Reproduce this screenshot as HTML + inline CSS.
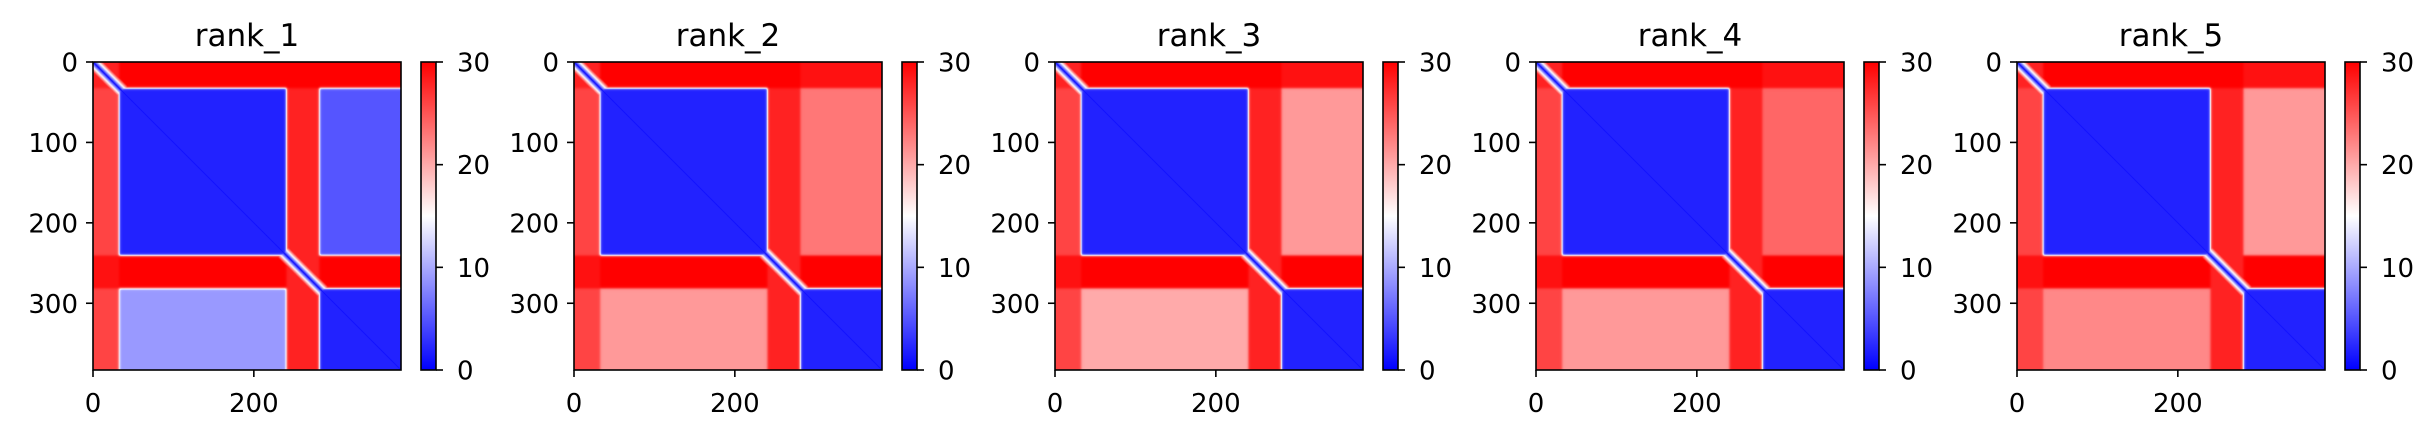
<!DOCTYPE html>
<html><head><meta charset="utf-8">
<style>
html,body{margin:0;padding:0;background:#fff;}
#fig{position:relative;width:2435px;height:438px;overflow:hidden;background:#fff;}
canvas{position:absolute;}
svg{position:absolute;left:0;top:0;}
text{font-family:"DejaVu Sans","Liberation Sans",sans-serif;fill:#000;}
</style></head>
<body>
<div id="fig">
<svg id="ov" width="2435" height="438"></svg>
</div>
<script>
// ---- data ----
const panelTitles = ["rank_1","rank_2","rank_3","rank_4","rank_5"];
const nResidues = 383;
const domainStarts = [0, 32, 240, 281];   // segment starts: N-term, domain B, linker, domain C
// block PAE (row segment x col segment) for each rank
const blockPAE_rank1 = [[28,30,30,30],[26,2,28,5],[29,30,28,30],[26,9,28,2]];
const blockPAE_rank2 = [[28,30,30,29],[26,2,28,23],[29,30,28,30],[26,21,28,2]];
const blockPAE_rank3 = [[28,30,30,29],[26,2,28,21],[29,30,28,30],[26,20,28,2]];
const blockPAE_rank4 = [[28,30,30,29],[26,2,28,24],[29,30,28,30],[26,21,28,2]];
const blockPAE_rank5 = [[28,30,30,29],[26,2,28,21],[29,30,28,30],[26,22,28,2]];
const blockPAE = [blockPAE_rank1,blockPAE_rank2,blockPAE_rank3,blockPAE_rank4,blockPAE_rank5];
const xTicks = [0,200];
const yTicks = [0,100,200,300];
const cbTicks = [0,10,20,30];
const vmax = 30;

// ---- layout ----
const panelLeft = [93,574,1055,1536,2017];
const axTop = 62, axSize = 308, cbOff = 328, cbW = 15;
const NS = "http://www.w3.org/2000/svg";
const ov = document.getElementById('ov');
const fig = document.getElementById('fig');

function cmap(v){
  let t = Math.max(0,Math.min(1,v/vmax));
  if(t<0.5){const a=2*t;return [255*a,255*a,255];}
  const a=2-2*t;return [255,255*a,255*a];
}
function segWeights(i){
  const w=[];
  for(let s=0;s<domainStarts.length;s++){
    const a=domainStarts[s], b=(s+1<domainStarts.length?domainStarts[s+1]:nResidues+50);
    const lo = s===0?1:1/(1+Math.exp(-(i-a)/0.8));
    const hi = 1/(1+Math.exp((i-b)/0.8));
    w.push(lo*hi);
  }
  const sum=w.reduce((p,c)=>p+c,0);
  return w.map(x=>x/sum);
}
function xs(v){return v/nResidues*axSize;}
function add(tag,attrs,parent){
  const e=document.createElementNS(NS,tag);
  for(const k in attrs)e.setAttribute(k,attrs[k]);
  (parent||ov).appendChild(e);return e;
}

const W=[];for(let i=0;i<nResidues;i++)W.push(segWeights(i));

panelTitles.forEach((title,p)=>{
  const L=panelLeft[p];
  const M=blockPAE[p];
  const cv=document.createElement('canvas');
  
  
  cv.width=nResidues;cv.height=nResidues;
  cv.style.left=L+'px';cv.style.top=axTop+'px';
  cv.style.width=axSize+'px';cv.style.height=axSize+'px';
  fig.insertBefore(cv,ov);
  const ctx=cv.getContext('2d');
  const img=ctx.createImageData(nResidues,nResidues);
  for(let i=0;i<nResidues;i++){
    const wi=W[i];
    for(let j=0;j<nResidues;j++){
      const wj=W[j];
      let v=0;
      for(let a=0;a<4;a++){if(wi[a]<1e-4)continue;for(let b=0;b<4;b++){if(wj[b]<1e-4)continue;v+=wi[a]*wj[b]*M[a][b];}}
      const d=Math.abs(i-j);
      v=Math.min(v,0.5+d*2.2);
      const c=cmap(v);const k=(i*nResidues+j)*4;
      img.data[k]=c[0];img.data[k+1]=c[1];img.data[k+2]=c[2];img.data[k+3]=255;
    }
  }
  ctx.putImageData(img,0,0);

  const g=add('g',{});
  
  
  const t=add('text',{x:L+axSize/2,y:46,'text-anchor':'middle','font-size':31},g);
  t.textContent=title;
  
  
  const fr=add('rect',{x:L,y:axTop,width:axSize,height:axSize,fill:'none',stroke:'#000','stroke-width':1.6},g);
  
  
  xTicks.forEach(v=>{
    const x=L+xs(v);
    add('line',{x1:x,y1:axTop+axSize,x2:x,y2:axTop+axSize+7,stroke:'#000','stroke-width':1.6},g);
    const tx=add('text',{x:x,y:412,'text-anchor':'middle','font-size':26},g);
    tx.textContent=v;
    
    
  });
  yTicks.forEach(v=>{
    const y=axTop+xs(v);
    add('line',{x1:L-7,y1:y,x2:L,y2:y,stroke:'#000','stroke-width':1.6},g);
    const ty=add('text',{x:L-15,y:y+9.5,'text-anchor':'end','font-size':26},g);
    ty.textContent=v;
    
    
  });
  const cx=L+cbOff;
  const gid='cbg'+p;
  const defs=add('defs',{},g);
  const lg=add('linearGradient',{id:gid,x1:0,y1:1,x2:0,y2:0},defs);
  add('stop',{offset:'0','stop-color':'#0000ff'},lg);
  add('stop',{offset:'0.5','stop-color':'#ffffff'},lg);
  add('stop',{offset:'1','stop-color':'#ff0000'},lg);
  const cb=add('rect',{x:cx,y:axTop,width:cbW,height:axSize,fill:'url(#'+gid+')',stroke:'#000','stroke-width':1.6},g);
  
  
  cbTicks.forEach(v=>{
    const y=axTop+axSize-v/vmax*axSize;
    add('line',{x1:cx+cbW,y1:y,x2:cx+cbW+7,y2:y,stroke:'#000','stroke-width':1.6},g);
    const tc=add('text',{x:cx+cbW+21,y:y+9.5,'font-size':26},g);
    tc.textContent=v;
    
    
  });
});
</script>
</body></html>
